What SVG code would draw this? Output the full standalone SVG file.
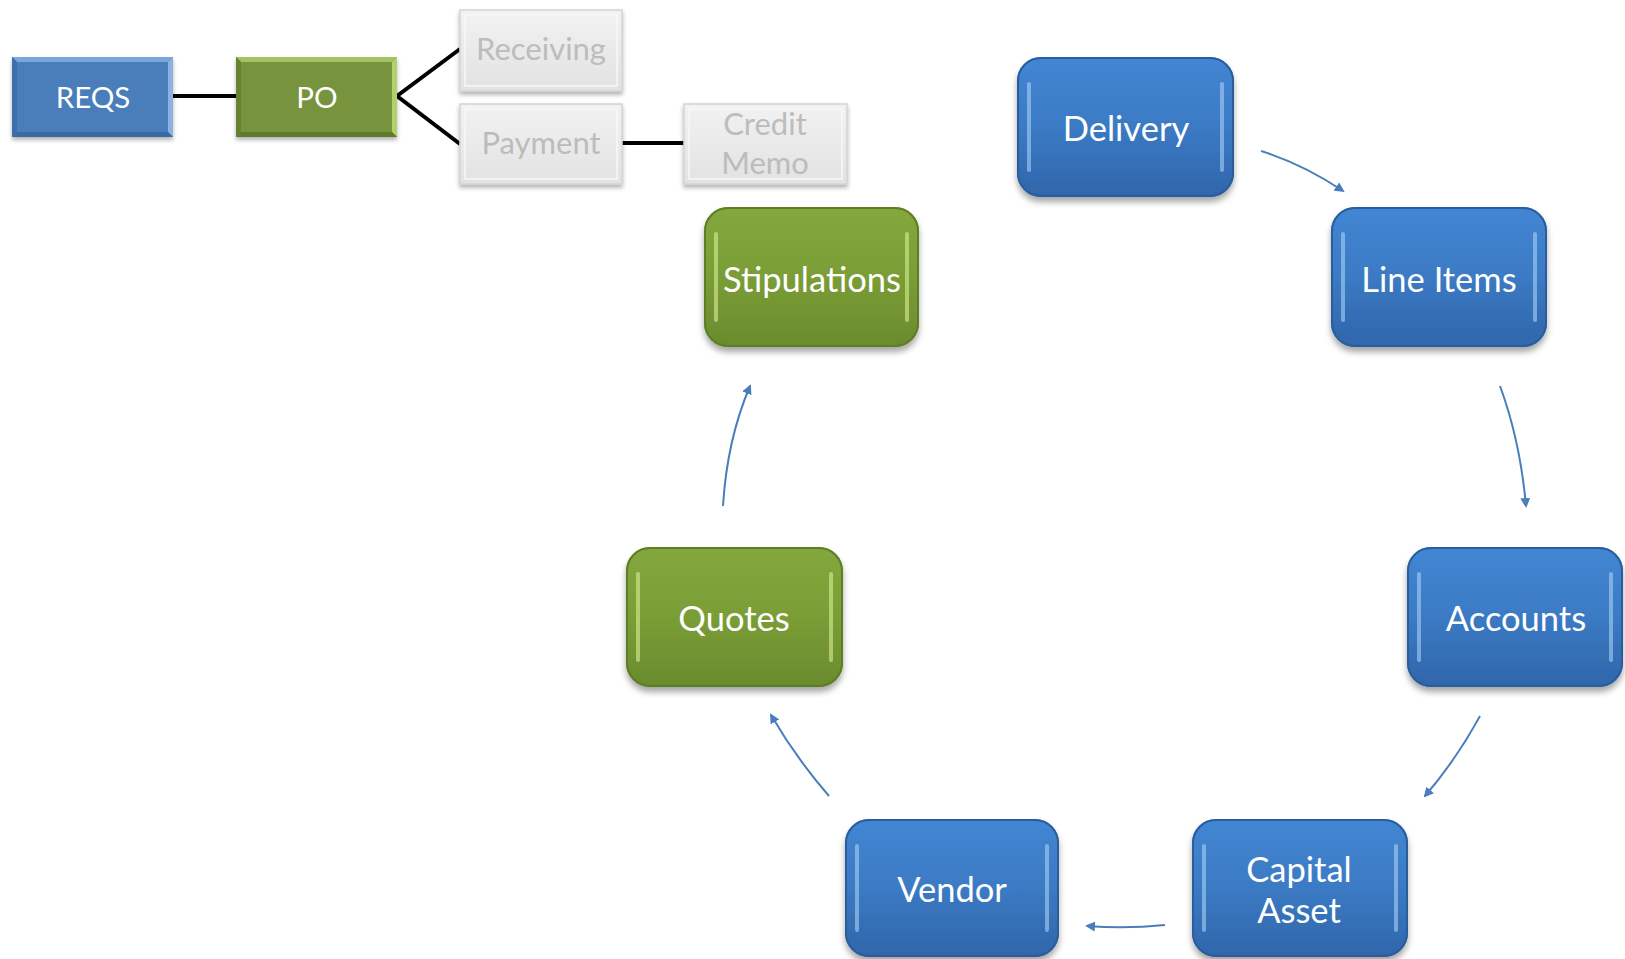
<svg xmlns="http://www.w3.org/2000/svg" width="1625" height="959" viewBox="0 0 1625 959">
<defs>
  <linearGradient id="gBlue" x1="0" y1="0" x2="0" y2="1">
    <stop offset="0" stop-color="#4386d3"/>
    <stop offset="0.5" stop-color="#3b7ac4"/>
    <stop offset="1" stop-color="#2f66aa"/>
  </linearGradient>
  <linearGradient id="gGreen" x1="0" y1="0" x2="0" y2="1">
    <stop offset="0" stop-color="#84a83d"/>
    <stop offset="0.5" stop-color="#7a9d36"/>
    <stop offset="1" stop-color="#6a8b2d"/>
  </linearGradient>
  <linearGradient id="gGray" x1="0" y1="0" x2="0" y2="1">
    <stop offset="0" stop-color="#f2f2f2"/>
    <stop offset="1" stop-color="#e2e2e2"/>
  </linearGradient>
  <filter id="sh" x="-10%" y="-10%" width="120%" height="130%">
    <feDropShadow dx="0" dy="5" stdDeviation="3" flood-color="#000" flood-opacity="0.35"/>
  </filter>
  <filter id="sh2" x="-10%" y="-10%" width="120%" height="130%">
    <feDropShadow dx="0" dy="3" stdDeviation="2" flood-color="#000" flood-opacity="0.3"/>
  </filter>
  <marker id="ah" viewBox="0 0 10 10" refX="8" refY="5" markerWidth="5" markerHeight="5" orient="auto">
    <path d="M0,0 L10,5 L0,10 z" fill="#4a7ebb"/>
  </marker>
</defs>
<style>
  .lbl { font-family: Lato, "Open Sans", "Liberation Sans", sans-serif; fill: #ffffff; text-anchor: middle; dominant-baseline: central; }
  .big { font-size: 34.5px; }
  .small { font-size: 29.5px; }
  .gray { fill: #bcbcbc; font-size: 31px; }
  .blue { fill: url(#gBlue); filter: url(#sh); }
  .green { fill: url(#gGreen); filter: url(#sh); }
  .rimB { fill: none; stroke: #2a5d9c; stroke-width: 2; }
  .rimG { fill: none; stroke: #5e7e26; stroke-width: 2; }
  .hlB { fill: #a9d0f5; opacity: 0.6; }
  .hlG { fill: #d8ef95; opacity: 0.6; }
  .flow { fill: none; stroke: #4a7ebb; stroke-width: 2; marker-end: url(#ah); }
  .tie { fill: none; stroke: #000; stroke-width: 4; }
</style>

<g id="connectors">
  <line class="tie" x1="173" y1="96" x2="236" y2="96"/>
  <polyline class="tie" points="460,49 397,96 460,144"/>
  <line class="tie" x1="622" y1="143" x2="684" y2="143"/>
  <path class="flow" d="M1261,151 Q1303,164 1343,191"/>
  <path class="flow" d="M1500,386 Q1520,440 1526,506"/>
  <path class="flow" d="M1480,716 Q1456,760 1425,796"/>
  <path class="flow" d="M1165,925 Q1126,929 1087,926"/>
  <path class="flow" d="M829,796 Q796,758 771,715"/>
  <path class="flow" d="M723,506 Q727,440 750,386"/>
</g>

<g id="node-reqs">
  <rect x="12" y="57" width="161" height="80" fill="#4a7ebb" filter="url(#sh2)"/>
  <polygon points="12,57 173,57 168,62 17,62" fill="#7aa6db"/>
  <polygon points="173,57 173,137 168,132 168,62" fill="#8ab3e3"/>
  <polygon points="12,137 173,137 168,132 17,132" fill="#3a6aa3"/>
  <polygon points="12,57 17,62 17,132 12,137" fill="#3d6fab"/>
  <text class="lbl small" x="93" y="96">REQS</text>
</g>
<g id="node-po">
  <rect x="236" y="57" width="161" height="80" fill="#77933c" filter="url(#sh2)"/>
  <polygon points="236,57 397,57 392,62 241,62" fill="#a3c260"/>
  <polygon points="397,57 397,137 392,132 392,62" fill="#b2d16a"/>
  <polygon points="236,137 397,137 392,132 241,132" fill="#5f7a2c"/>
  <polygon points="236,57 241,62 241,132 236,137" fill="#66822f"/>
  <text class="lbl small" x="317" y="96">PO</text>
</g>
<g id="node-receiving">
  <rect x="460" y="10" width="162" height="81" fill="url(#gGray)" stroke="#d4d4d4" stroke-width="1.5" filter="url(#sh2)"/>
  <rect x="465" y="15" width="152" height="71" fill="none" stroke="#f8f8f8" stroke-width="1.5"/>
  <text class="lbl gray" x="541" y="48">Receiving</text>
</g>
<g id="node-payment">
  <rect x="460" y="104" width="162" height="80" fill="url(#gGray)" stroke="#d4d4d4" stroke-width="1.5" filter="url(#sh2)"/>
  <rect x="465" y="109" width="152" height="70" fill="none" stroke="#f8f8f8" stroke-width="1.5"/>
  <text class="lbl gray" x="541" y="142">Payment</text>
</g>
<g id="node-credit-memo">
  <rect x="684" y="104" width="163" height="80" fill="url(#gGray)" stroke="#d4d4d4" stroke-width="1.5" filter="url(#sh2)"/>
  <rect x="689" y="109" width="153" height="70" fill="none" stroke="#f8f8f8" stroke-width="1.5"/>
  <text class="lbl gray" x="765" y="123">Credit</text>
  <text class="lbl gray" x="765" y="162">Memo</text>
</g>

<g id="node-delivery">
  <rect class="blue" x="1017" y="57" width="217" height="140" rx="24"/>
  <rect class="rimB" x="1018" y="58" width="215" height="138" rx="23"/>
  <rect class="hlB" x="1027" y="82" width="4" height="90" rx="2"/>
  <rect class="hlB" x="1220" y="82" width="4" height="90" rx="2"/>
  <text class="lbl big" x="1126" y="127">Delivery</text>
</g>
<g id="node-line-items">
  <rect class="blue" x="1331" y="207" width="216" height="140" rx="24"/>
  <rect class="rimB" x="1332" y="208" width="214" height="138" rx="23"/>
  <rect class="hlB" x="1341" y="232" width="4" height="90" rx="2"/>
  <rect class="hlB" x="1533" y="232" width="4" height="90" rx="2"/>
  <text class="lbl big" x="1439" y="278">Line Items</text>
</g>
<g id="node-accounts">
  <rect class="blue" x="1407" y="547" width="216" height="140" rx="24"/>
  <rect class="rimB" x="1408" y="548" width="214" height="138" rx="23"/>
  <rect class="hlB" x="1417" y="572" width="4" height="90" rx="2"/>
  <rect class="hlB" x="1609" y="572" width="4" height="90" rx="2"/>
  <text class="lbl big" x="1516" y="617">Accounts</text>
</g>
<g id="node-capital-asset">
  <rect class="blue" x="1192" y="819" width="216" height="138" rx="24"/>
  <rect class="rimB" x="1193" y="820" width="214" height="136" rx="23"/>
  <rect class="hlB" x="1202" y="844" width="4" height="88" rx="2"/>
  <rect class="hlB" x="1394" y="844" width="4" height="88" rx="2"/>
  <text class="lbl big" x="1299" y="868">Capital</text>
  <text class="lbl big" x="1299" y="909">Asset</text>
</g>
<g id="node-vendor">
  <rect class="blue" x="845" y="819" width="214" height="138" rx="24"/>
  <rect class="rimB" x="846" y="820" width="212" height="136" rx="23"/>
  <rect class="hlB" x="855" y="844" width="4" height="88" rx="2"/>
  <rect class="hlB" x="1045" y="844" width="4" height="88" rx="2"/>
  <text class="lbl big" x="952" y="888">Vendor</text>
</g>
<g id="node-quotes">
  <rect class="green" x="626" y="547" width="217" height="140" rx="24"/>
  <rect class="rimG" x="627" y="548" width="215" height="138" rx="23"/>
  <rect class="hlG" x="636" y="572" width="4" height="90" rx="2"/>
  <rect class="hlG" x="829" y="572" width="4" height="90" rx="2"/>
  <text class="lbl big" x="734" y="617">Quotes</text>
</g>
<g id="node-stipulations">
  <rect class="green" x="704" y="207" width="215" height="140" rx="24"/>
  <rect class="rimG" x="705" y="208" width="213" height="138" rx="23"/>
  <rect class="hlG" x="714" y="232" width="4" height="90" rx="2"/>
  <rect class="hlG" x="905" y="232" width="4" height="90" rx="2"/>
  <text class="lbl big" x="812" y="278">Stipulations</text>
</g>
</svg>
